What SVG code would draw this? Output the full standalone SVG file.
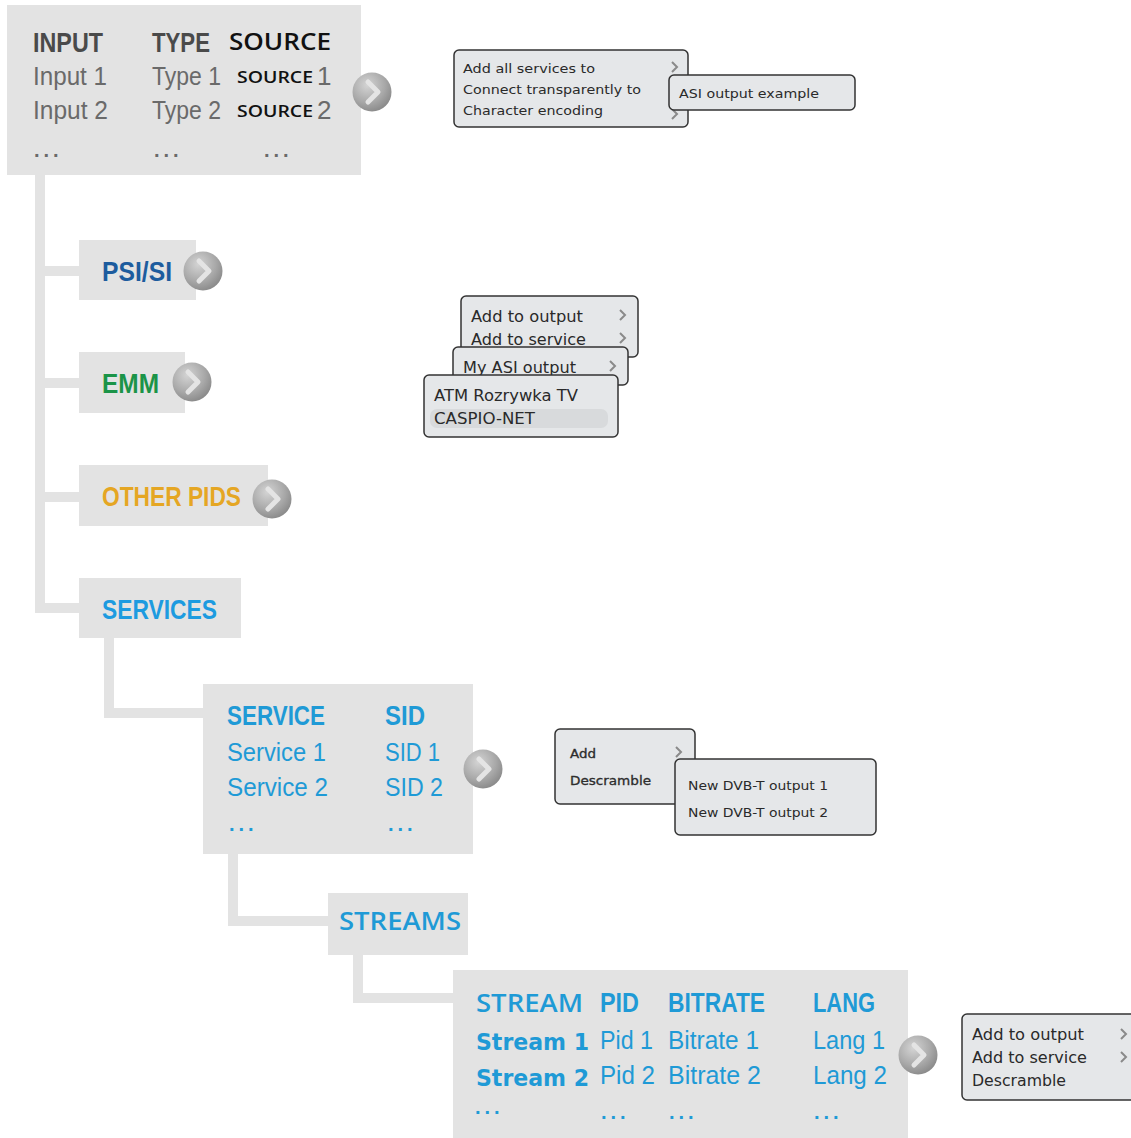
<svg xmlns="http://www.w3.org/2000/svg" width="1131" height="1138" viewBox="0 0 1131 1138">
<defs>
<radialGradient id="btnGrad" cx="0.38" cy="0.32" r="0.75">
<stop offset="0" stop-color="#d4d4d4"/>
<stop offset="0.6" stop-color="#a8a8a8"/>
<stop offset="1" stop-color="#858585"/>
</radialGradient>
<symbol id="btn" viewBox="-21 -21 42 42" overflow="visible">
<circle r="19.5" fill="url(#btnGrad)"/>
<path d="M-4,-10 L6,0 L-4,10" fill="none" stroke="#e4e4e4" stroke-width="5" stroke-linejoin="round" stroke-linecap="round"/>
</symbol>
<symbol id="chev" overflow="visible">
<path d="M-3,-5 L2,0 L-3,5" fill="none" stroke="#8a8a8a" stroke-width="2"/>
</symbol>
</defs>
<style>
.box { fill: #e3e3e3; }
.conn { fill: none; stroke: #e3e3e3; stroke-width: 10; stroke-linejoin: miter; }
.cond { font-family: "Liberation Sans Narrow", "Liberation Sans", Arial, sans-serif; }
.hb { font-weight: bold; font-size: 28px; }
.rg { font-size: 26px; }
.hum { font-family: "Open Sans", "DejaVu Sans", sans-serif; }
.gray1 { fill: #4a4a4a; }
.gray2 { fill: #6a6a6a; }
.blue { fill: #1f9ad6; }
.dots { font-family: "Liberation Sans", sans-serif; font-size: 20px; font-weight: bold; letter-spacing: 4px; }
.pop { fill: #e5e7e9; stroke: #333; stroke-width: 1.5; }
.pt { font-family: "DejaVu Sans", Verdana, sans-serif; fill: #2a2a2a; }
</style>
<rect width="1131" height="1138" fill="#ffffff"/>

<g id="connectors">
<polyline class="conn" points="40,175 40,608 79,608"/>
<line class="conn" x1="40" y1="271" x2="79" y2="271"/>
<line class="conn" x1="40" y1="383" x2="79" y2="383"/>
<line class="conn" x1="40" y1="497" x2="79" y2="497"/>
<polyline class="conn" points="109,638 109,713 203,713"/>
<polyline class="conn" points="233,854 233,921 328,921"/>
<polyline class="conn" points="358,955 358,998 453,998"/>
</g>

<g id="node-input">
<rect class="box" x="7" y="5" width="354" height="170"/>
<text class="cond hb gray1" x="33" y="52" textLength="70" lengthAdjust="spacingAndGlyphs">INPUT</text>
<text class="cond hb gray1" x="152" y="52" textLength="58" lengthAdjust="spacingAndGlyphs">TYPE</text>
<text class="hum" x="229" y="50" font-size="24" font-weight="600" fill="#111" textLength="102" lengthAdjust="spacingAndGlyphs">SOURCE</text>
<text class="cond rg gray2" x="33" y="85" textLength="74" lengthAdjust="spacingAndGlyphs">Input 1</text>
<text class="cond rg gray2" x="152" y="85" textLength="69" lengthAdjust="spacingAndGlyphs">Type 1</text>
<text class="hum" x="237" y="83" font-size="16" font-weight="600" fill="#111" textLength="76" lengthAdjust="spacingAndGlyphs">SOURCE</text>
<text class="cond rg gray2" x="317" y="85">1</text>
<text class="cond rg gray2" x="33" y="119" textLength="75" lengthAdjust="spacingAndGlyphs">Input 2</text>
<text class="cond rg gray2" x="152" y="119" textLength="69" lengthAdjust="spacingAndGlyphs">Type 2</text>
<text class="hum" x="237" y="117" font-size="16" font-weight="600" fill="#111" textLength="76" lengthAdjust="spacingAndGlyphs">SOURCE</text>
<text class="cond rg gray2" x="317" y="119">2</text>
<text class="dots gray2" x="34" y="157">...</text>
<text class="dots gray2" x="154" y="157">...</text>
<text class="dots gray2" x="264" y="157">...</text>
<use href="#btn" x="351" y="71" width="42" height="42"/>
</g>

<g id="menu-input">
<rect class="pop" x="454" y="50" width="234" height="77" rx="5"/>
<text class="pt" x="463" y="73" font-size="13" textLength="132" lengthAdjust="spacingAndGlyphs">Add all services to</text>
<text class="pt" x="463" y="94" font-size="13" textLength="178" lengthAdjust="spacingAndGlyphs">Connect transparently to</text>
<text class="pt" x="463" y="115" font-size="13" textLength="140" lengthAdjust="spacingAndGlyphs">Character encoding</text>
<use href="#chev" x="675" y="67"/>
<use href="#chev" x="675" y="114"/>
<rect class="pop" x="669" y="75" width="186" height="35" rx="5"/>
<text class="pt" x="679" y="98" font-size="13" textLength="140" lengthAdjust="spacingAndGlyphs">ASI output example</text>
</g>

<g id="node-psisi">
<rect class="box" x="79" y="240" width="117" height="60"/>
<text class="cond hb" x="102" y="281" fill="#1d5c9e" textLength="70" lengthAdjust="spacingAndGlyphs">PSI/SI</text>
<use href="#btn" x="182" y="250" width="42" height="42"/>
</g>

<g id="node-emm">
<rect class="box" x="79" y="352" width="106" height="61"/>
<text class="cond hb" x="102" y="393" fill="#1b9448" textLength="57" lengthAdjust="spacingAndGlyphs">EMM</text>
<use href="#btn" x="171" y="361" width="42" height="42"/>
</g>

<g id="menu-emm">
<rect class="pop" x="461" y="296" width="177" height="61" rx="5"/>
<text class="pt" x="471" y="322" font-size="15" textLength="112" lengthAdjust="spacingAndGlyphs">Add to output</text>
<text class="pt" x="471" y="345" font-size="15" textLength="115" lengthAdjust="spacingAndGlyphs">Add to service</text>
<use href="#chev" x="623" y="315"/>
<use href="#chev" x="623" y="338"/>
<rect class="pop" x="453" y="347" width="175" height="38" rx="5"/>
<text class="pt" x="463" y="373" font-size="15" textLength="113" lengthAdjust="spacingAndGlyphs">My ASI output</text>
<use href="#chev" x="613" y="366"/>
<rect class="pop" x="424" y="375" width="194" height="62" rx="5"/>
<rect x="430" y="409" width="178" height="19" rx="7" fill="#d8dadc"/>
<text class="pt" x="434" y="401" font-size="15" textLength="144" lengthAdjust="spacingAndGlyphs">ATM Rozrywka TV</text>
<text class="pt" x="434" y="424" font-size="15" textLength="101" lengthAdjust="spacingAndGlyphs">CASPIO-NET</text>
</g>

<g id="node-otherpids">
<rect class="box" x="79" y="465" width="189" height="61"/>
<text class="cond hb" x="102" y="506" fill="#e5a623" textLength="139" lengthAdjust="spacingAndGlyphs">OTHER PIDS</text>
<use href="#btn" x="251" y="478" width="42" height="42"/>
</g>

<g id="node-services">
<rect class="box" x="79" y="578" width="162" height="60"/>
<text class="cond hb" x="102" y="619" fill="#1d9be0" textLength="115" lengthAdjust="spacingAndGlyphs">SERVICES</text>
</g>

<g id="node-service">
<rect class="box" x="203" y="684" width="270" height="170"/>
<text class="cond hb blue" x="227" y="725" textLength="98" lengthAdjust="spacingAndGlyphs">SERVICE</text>
<text class="cond hb blue" x="385" y="725" textLength="40" lengthAdjust="spacingAndGlyphs">SID</text>
<text class="cond rg blue" x="227" y="761" textLength="99" lengthAdjust="spacingAndGlyphs">Service 1</text>
<text class="cond rg blue" x="385" y="761" textLength="55" lengthAdjust="spacingAndGlyphs">SID 1</text>
<text class="cond rg blue" x="227" y="796" textLength="101" lengthAdjust="spacingAndGlyphs">Service 2</text>
<text class="cond rg blue" x="385" y="796" textLength="58" lengthAdjust="spacingAndGlyphs">SID 2</text>
<text class="dots blue" x="229" y="831">...</text>
<text class="dots blue" x="388" y="831">...</text>
<use href="#btn" x="462" y="748" width="42" height="42"/>
</g>

<g id="menu-service">
<rect class="pop" x="555" y="729" width="140" height="75" rx="5"/>
<text class="pt" x="570" y="758" font-size="13" stroke="#333" stroke-width="0.35" textLength="26" lengthAdjust="spacingAndGlyphs" fill="#333">Add</text>
<text class="pt" x="570" y="785" font-size="13" stroke="#333" stroke-width="0.35" textLength="81" lengthAdjust="spacingAndGlyphs" fill="#333">Descramble</text>
<use href="#chev" x="679" y="752"/>
<rect class="pop" x="675" y="759" width="201" height="76" rx="5"/>
<text class="pt" x="688" y="790" font-size="13" textLength="140" lengthAdjust="spacingAndGlyphs">New DVB-T output 1</text>
<text class="pt" x="688" y="817" font-size="13" textLength="140" lengthAdjust="spacingAndGlyphs">New DVB-T output 2</text>
</g>

<g id="node-streams">
<rect class="box" x="328" y="893" width="140" height="62"/>
<text class="hum blue" x="339" y="930" font-size="26" font-weight="600" textLength="122" lengthAdjust="spacingAndGlyphs">STREAMS</text>
</g>

<g id="node-stream">
<rect class="box" x="453" y="970" width="455" height="168"/>
<text class="hum blue" x="476" y="1012" font-size="25" font-weight="600" textLength="107" lengthAdjust="spacingAndGlyphs">STREAM</text>
<text class="cond hb blue" x="600" y="1012" textLength="39" lengthAdjust="spacingAndGlyphs">PID</text>
<text class="cond hb blue" x="668" y="1012" textLength="97" lengthAdjust="spacingAndGlyphs">BITRATE</text>
<text class="cond hb blue" x="813" y="1012" textLength="62" lengthAdjust="spacingAndGlyphs">LANG</text>
<text class="blue" x="476" y="1050" font-family="DejaVu Sans, Verdana, sans-serif" font-size="23" font-weight="bold" textLength="113" lengthAdjust="spacingAndGlyphs">Stream 1</text>
<text class="cond rg blue" x="600" y="1049" textLength="53" lengthAdjust="spacingAndGlyphs">Pid 1</text>
<text class="cond rg blue" x="668" y="1049" textLength="91" lengthAdjust="spacingAndGlyphs">Bitrate 1</text>
<text class="cond rg blue" x="813" y="1049" textLength="72" lengthAdjust="spacingAndGlyphs">Lang 1</text>
<text class="blue" x="476" y="1086" font-family="DejaVu Sans, Verdana, sans-serif" font-size="23" font-weight="bold" textLength="113" lengthAdjust="spacingAndGlyphs">Stream 2</text>
<text class="cond rg blue" x="600" y="1084" textLength="55" lengthAdjust="spacingAndGlyphs">Pid 2</text>
<text class="cond rg blue" x="668" y="1084" textLength="93" lengthAdjust="spacingAndGlyphs">Bitrate 2</text>
<text class="cond rg blue" x="813" y="1084" textLength="74" lengthAdjust="spacingAndGlyphs">Lang 2</text>
<text class="dots blue" x="475" y="1114" font-size="22">...</text>
<text class="dots blue" x="601" y="1119">...</text>
<text class="dots blue" x="669" y="1119">...</text>
<text class="dots blue" x="814" y="1119">...</text>
<use href="#btn" x="897" y="1034" width="42" height="42"/>
</g>

<g id="menu-stream">
<rect class="pop" x="962" y="1014" width="180" height="86" rx="5"/>
<text class="pt" x="972" y="1040" font-size="15" textLength="112" lengthAdjust="spacingAndGlyphs">Add to output</text>
<text class="pt" x="972" y="1063" font-size="15" textLength="115" lengthAdjust="spacingAndGlyphs">Add to service</text>
<text class="pt" x="972" y="1086" font-size="15" textLength="94" lengthAdjust="spacingAndGlyphs">Descramble</text>
<use href="#chev" x="1124" y="1034"/>
<use href="#chev" x="1124" y="1057"/>
</g>
</svg>
